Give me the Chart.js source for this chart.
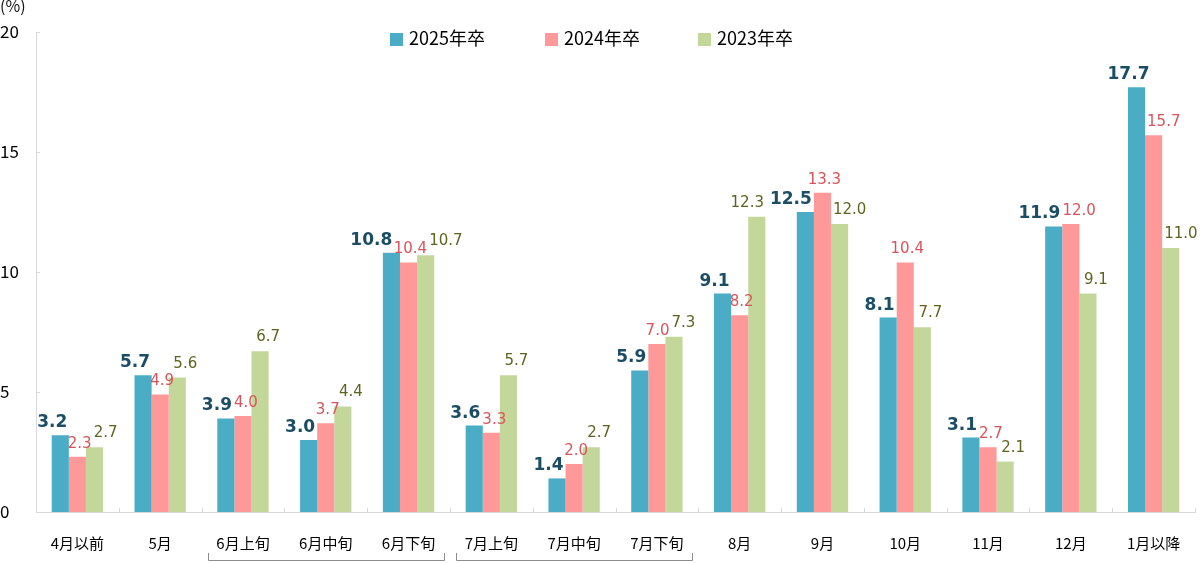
<!DOCTYPE html>
<html>
<head>
<meta charset="utf-8">
<script src="https://cdn.jsdelivr.net/npm/chart.js@4/dist/chart.umd.min.js"></script>
<style>
html,body{margin:0;padding:0;background:#fff;}
#wrap{position:relative;width:1200px;height:563px;}
</style>
</head>
<body>
<div id="wrap"><canvas id="c" width="1200" height="563"></canvas></div>
<script>
const categories = ["4月以前","5月","6月上旬","6月中旬","6月下旬","7月上旬","7月中旬","7月下旬","8月","9月","10月","11月","12月","1月以降"];
const seriesNames = ["2025年卒","2024年卒","2023年卒"];
const values2025 = [3.2,5.7,3.9,3.0,10.8,3.6,1.4,5.9,9.1,12.5,8.1,3.1,11.9,17.7];
const values2024 = [2.3,4.9,4.0,3.7,10.4,3.3,2.0,7.0,8.2,13.3,10.4,2.7,12.0,15.7];
const values2023 = [2.7,5.6,6.7,4.4,10.7,5.7,2.7,7.3,12.3,12.0,7.7,2.1,9.1,11.0];
const yTicks = [0,5,10,15,20];
const bracketGroups = [["6月上旬","6月下旬"],["7月上旬","7月下旬"]];

const barColors = ["#4BACC6","#FF9999","#C4D79B"];
const labelStyles = [
  {color:"#1B4D64", font:"bold 17px 'DejaVu Sans', Verdana, sans-serif", h:13, dx:-8, dy:8},
  {color:"#D9545A", font:"15px 'DejaVu Sans', Verdana, sans-serif", h:11, dx:2, dy:9},
  {color:"#5E6420", font:"15px 'DejaVu Sans', Verdana, sans-serif", h:11, dx:8, dy:10}
];

const labelPlugin = {
  id:'valueLabels',
  afterDatasetsDraw(chart){
    const ctx = chart.ctx;
    const n = chart.data.labels.length;
    const metas = chart.data.datasets.map((ds,i)=>chart.getDatasetMeta(i));
    const W = chart.width;
    const all = [];
    for (let j=0;j<n;j++){
      const bars = metas.map(m=>{ const p = m.data[j].getProps(['x','y','width'], true); return {l:p.x-p.width/2, r:p.x+p.width/2, t:p.y}; });
      const boxes = chart.data.datasets.map((ds,i)=>{
        const st = labelStyles[i];
        ctx.font = st.font;
        const txt = ds.data[j].toFixed(1);
        const w = ctx.measureText(txt).width;
        const el = metas[i].data[j];
        return {i, txt, w, st, cx: el.x + st.dx, by: el.y - st.dy, ty: el.y - st.dy - st.h};
      });
      const under = (bx, br) => bx.by > br.t + 2;
      if (under(boxes[0], bars[1])) { const lim = bars[1].l - 2; if (boxes[0].cx + boxes[0].w/2 > lim) boxes[0].cx = lim - boxes[0].w/2; }
      if (under(boxes[1], bars[0]) && !under(boxes[1], bars[2])) { const lim = bars[0].r + 2; if (boxes[1].cx - boxes[1].w/2 < lim) boxes[1].cx = lim + boxes[1].w/2; }
      if (under(boxes[2], bars[1])) { const lim = bars[1].r + 2; if (boxes[2].cx - boxes[2].w/2 < lim) boxes[2].cx = lim + boxes[2].w/2; }
      for (let pass=0; pass<3; pass++){
        for (let i=0;i<boxes.length-1;i++){
          const a = boxes[i], b = boxes[i+1];
          const vOverlap = !(a.by < b.ty - 1 || b.by < a.ty - 1);
          if (!vOverlap) continue;
          const gap = (b.cx - b.w/2) - (a.cx + a.w/2);
          if (gap < 2){ const need = 2 - gap; a.cx -= need/2; b.cx += need/2; }
        }
      }
      all.push(boxes);
    }
    // resolve collisions between the last label of a group and the first label of the next group
    for (let j=0;j<n-1;j++){
      const a = all[j][2], b = all[j+1][0];
      const vOverlap = !(a.by < b.ty - 1 || b.by < a.ty - 1);
      if (!vOverlap) continue;
      const gap = (b.cx - b.w/2) - (a.cx + a.w/2);
      if (gap < 6) a.cx -= (6 - gap);
    }
    all.forEach(boxes=>boxes.forEach(bx=>{
      if (bx.cx + bx.w/2 > W - 1) bx.cx = W - 1 - bx.w/2;
      ctx.save();
      ctx.font = bx.st.font;
      ctx.fillStyle = bx.st.color;
      ctx.textAlign = 'center';
      ctx.textBaseline = 'alphabetic';
      ctx.fillText(bx.txt, bx.cx, bx.by);
      ctx.restore();
    }));
  }
};

const extrasPlugin = {
  id:'extras',
  afterDraw(chart){
    const ctx = chart.ctx;
    const xs = chart.scales.x;
    const ys = chart.scales.y;
    ctx.save();
    ctx.font = "16px 'Noto Sans CJK JP', sans-serif";
    ctx.fillStyle = "#111";
    ctx.textAlign = 'left';
    ctx.textBaseline = 'middle';
    ctx.fillText("(%)", 0, 6);
    ctx.strokeStyle = "#8c8c8c";
    ctx.lineWidth = 1;
    const half = (xs.getPixelForValue(1) - xs.getPixelForValue(0)) / 2;
    bracketGroups.forEach(g=>{
      const a = xs.getPixelForValue(categories.indexOf(g[0])) - half + 6;
      const b = xs.getPixelForValue(categories.indexOf(g[1])) + half - 6;
      const yb = 560.5, yt = 553;
      ctx.beginPath();
      ctx.moveTo(Math.round(a)+0.5, yt);
      ctx.lineTo(Math.round(a)+0.5, yb);
      ctx.lineTo(Math.round(b)+0.5, yb);
      ctx.lineTo(Math.round(b)+0.5, yt);
      ctx.stroke();
    });
    ctx.strokeStyle = "#D9D9D9";
    const y0 = ys.getPixelForValue(0);
    for (let k=0;k<=categories.length;k++){
      const xp = Math.round(xs.getPixelForValue(k) - half) + 0.5;
      ctx.beginPath(); ctx.moveTo(xp, y0); ctx.lineTo(xp, y0-4); ctx.stroke();
    }
    yTicks.forEach(t=>{
      const yp = Math.round(ys.getPixelForValue(t)) + 0.5;
      ctx.beginPath(); ctx.moveTo(xs.left, yp); ctx.lineTo(xs.left+4, yp); ctx.stroke();
    });
    ctx.restore();
  }
};

const legendPlugin = {
  id:'customLegend',
  afterDraw(chart){
    const ctx = chart.ctx;
    ctx.save();
    ctx.font = "18px 'Noto Sans CJK JP', sans-serif";
    ctx.textBaseline = 'middle';
    ctx.textAlign = 'left';
    const starts = [390, 545, 698];
    chart.data.datasets.forEach((ds,i)=>{
      const x = starts[i];
      ctx.fillStyle = ds.backgroundColor;
      ctx.fillRect(x, 33, 13, 13);
      ctx.fillStyle = "#000";
      ctx.fillText(ds.label, x + 19, 38);
    });
    ctx.restore();
  }
};

new Chart(document.getElementById('c'), {
  type:'bar',
  data:{
    labels: categories,
    datasets:[
      {label:seriesNames[0], data:values2025, backgroundColor:barColors[0]},
      {label:seriesNames[1], data:values2024, backgroundColor:barColors[1]},
      {label:seriesNames[2], data:values2023, backgroundColor:barColors[2]}
    ]
  },
  options:{
    responsive:false,
    animation:false,
    layout:{padding:{top:32,right:5,left:0,bottom:0}},
    datasets:{bar:{categoryPercentage:0.62, barPercentage:1.0, borderWidth:0}},
    plugins:{legend:{display:false}, tooltip:{enabled:false}},
    scales:{
      x:{
        grid:{display:false, offset:true},
        border:{display:true, color:"#D9D9D9", width:1},
        ticks:{color:"#000", font:{family:"'Noto Sans CJK JP', sans-serif", size:15}, padding:14, maxRotation:0, autoSkip:false},
        afterFit(s){ s.height = 51; }
      },
      y:{
        min:0, max:20,
        afterBuildTicks(s){ s.ticks = yTicks.map(v=>({value:v})); },
        grid:{display:false},
        border:{display:true, color:"#D9D9D9", width:1},
        ticks:{color:"#000", font:{family:"'Noto Sans CJK JP', sans-serif", size:17}, padding:6, crossAlign:'far'},
        afterFit(s){ s.width = 36; }
      }
    }
  },
  plugins:[labelPlugin, extrasPlugin, legendPlugin]
});
</script>
</body>
</html>
